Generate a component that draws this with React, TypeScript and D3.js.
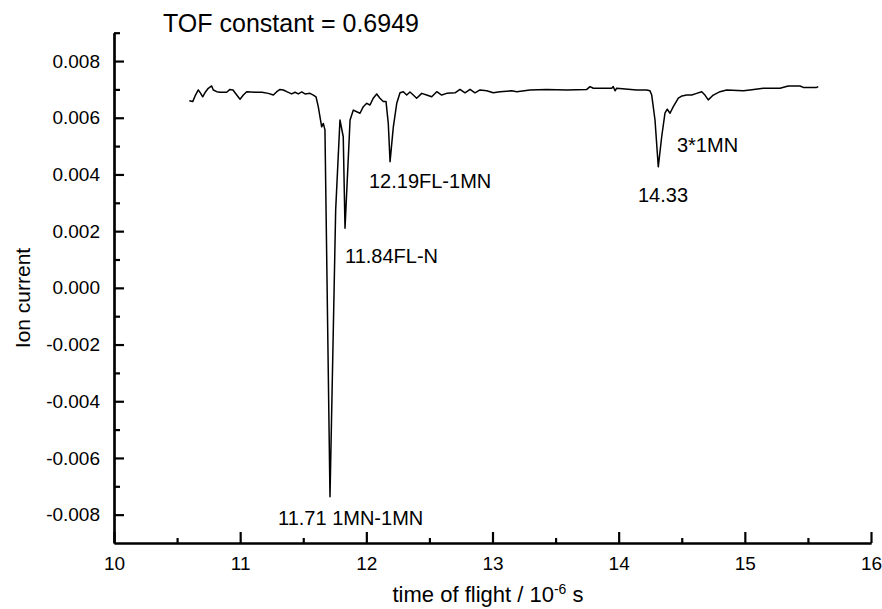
import { useRef, useEffect } from 'react';
import * as d3 from 'd3';

// time of flight (10^-6 s) and ion current
const TIME = [
  10.597, 10.624, 10.646, 10.668, 10.686, 10.703, 10.725, 10.747, 10.774, 10.787,
  10.814, 10.840, 10.893, 10.919, 10.943, 10.973, 10.999, 11.025, 11.052, 11.118,
  11.173, 11.223, 11.263, 11.290, 11.316, 11.342, 11.369, 11.408, 11.435, 11.461,
  11.488, 11.514, 11.553, 11.580, 11.601, 11.619, 11.646, 11.659, 11.672, 11.712,
  11.757, 11.791, 11.817, 11.831, 11.871, 11.897, 11.924, 11.950, 11.976, 12.003,
  12.029, 12.055, 12.082, 12.108, 12.134, 12.156, 12.174, 12.188, 12.214, 12.241,
  12.267, 12.293, 12.320, 12.346, 12.372, 12.399, 12.439, 12.478, 12.518, 12.558,
  12.597, 12.637, 12.703, 12.742, 12.782, 12.822, 12.861, 12.901, 12.954, 13.006,
  13.059, 13.152, 13.192, 13.297, 13.429, 13.588, 13.747, 13.773, 13.799, 13.945,
  13.957, 13.971, 13.984, 14.143, 14.222, 14.248, 14.262, 14.274, 14.288, 14.314,
  14.341, 14.367, 14.385, 14.407, 14.433, 14.473, 14.502, 14.539, 14.579, 14.618,
  14.658, 14.684, 14.710, 14.750, 14.803, 14.856, 14.988, 15.041, 15.146, 15.279,
  15.344, 15.437, 15.463, 15.569, 15.582,
];
const CURRENT = [
  0.00660, 0.00657, 0.00680, 0.00698, 0.00687, 0.00674, 0.00691, 0.00704, 0.00712, 0.00698,
  0.00692, 0.00690, 0.00690, 0.00700, 0.00698, 0.00680, 0.00665, 0.00680, 0.00692, 0.00690,
  0.00690, 0.00686, 0.00680, 0.00692, 0.00700, 0.00698, 0.00692, 0.00684, 0.00690, 0.00684,
  0.00691, 0.00684, 0.00686, 0.00680, 0.00674, 0.00639, 0.00568, 0.00580, 0.00557, -0.00737,
  0.00275, 0.00592, 0.00533, 0.00210, 0.00592, 0.00627, 0.00621, 0.00616, 0.00639, 0.00651,
  0.00645, 0.00669, 0.00684, 0.00669, 0.00657, 0.00657, 0.00580, 0.00445, 0.00568, 0.00651,
  0.00688, 0.00692, 0.00680, 0.00691, 0.00680, 0.00669, 0.00686, 0.00680, 0.00674, 0.00692,
  0.00680, 0.00686, 0.00688, 0.00700, 0.00688, 0.00700, 0.00688, 0.00698, 0.00695, 0.00688,
  0.00692, 0.00695, 0.00692, 0.00698, 0.00700, 0.00698, 0.00700, 0.00710, 0.00704, 0.00704,
  0.00710, 0.00695, 0.00704, 0.00698, 0.00698, 0.00695, 0.00680, 0.00639, 0.00592, 0.00427,
  0.00533, 0.00616, 0.00630, 0.00616, 0.00639, 0.00669, 0.00677, 0.00680, 0.00680, 0.00686,
  0.00692, 0.00680, 0.00663, 0.00680, 0.00692, 0.00698, 0.00695, 0.00698, 0.00704, 0.00704,
  0.00712, 0.00712, 0.00707, 0.00707, 0.00710,
];

const X_MAJOR = [10, 11, 12, 13, 14, 15, 16];
const X_MINOR = [10.5, 11.5, 12.5, 13.5, 14.5, 15.5];
const Y_MAJOR = [-0.008, -0.006, -0.004, -0.002, 0, 0.002, 0.004, 0.006, 0.008];
const Y_MINOR = [-0.007, -0.005, -0.003, -0.001, 0.001, 0.003, 0.005, 0.007, 0.009];

// peak annotations: text, and where the text starts (data coords of baseline start)
const NOTE_TEXT = ['11.71 1MN-1MN', '11.84FL-N', '12.19FL-1MN', '14.33', '3*1MN'];
const NOTE_T = [11.30, 11.831, 12.021, 14.153, 14.462];
const NOTE_V = [-0.00837, 0.000877, 0.003522, 0.003028, 0.004792];

const TITLE = 'TOF constant = 0.6949';
const FONT = "'Liberation Sans', Arial, Helvetica, sans-serif";

export default function App() {
  const svgRef = useRef<SVGSVGElement>(null);

  useEffect(() => {
    const svg = d3.select(svgRef.current);
    svg.selectAll('*').remove();

    const m = { top: 32.7, right: 11, bottom: 66, left: 114 };
    const W = 882, H = 609;
    const x = d3.scaleLinear().domain([10, 16]).range([m.left, W - m.right]);
    const y = d3.scaleLinear().domain([-0.009, 0.009]).range([H - m.bottom, m.top]);
    const fmtY = (d: number) => (Math.abs(d) < 1e-9 ? '0.000' : d.toFixed(3));

    const style = (s: any) => {
      s.selectAll('path,line').attr('stroke', '#000').attr('stroke-width', 2.2);
      s.selectAll('text').attr('fill', '#000').style('font-family', FONT).style('font-size', '19px');
    };

    // minor ticks
    svg.append('g').attr('transform', `translate(0,${y(-0.009)})`)
      .call(d3.axisBottom(x).tickValues(X_MINOR).tickSize(-5).tickSizeOuter(0).tickFormat(() => ''))
      .call(style);
    svg.append('g').attr('transform', `translate(${x(10)},0)`)
      .call(d3.axisLeft(y).tickValues(Y_MINOR).tickSize(-6).tickSizeOuter(0).tickFormat(() => ''))
      .call(style);

    // major ticks
    svg.append('g').attr('transform', `translate(0,${y(-0.009)})`)
      .call(d3.axisBottom(x).tickValues(X_MAJOR).tickSize(-11).tickSizeOuter(0).tickPadding(14).tickFormat(d3.format('d')))
      .call(style);
    svg.append('g').attr('transform', `translate(${x(10)},0)`)
      .call(d3.axisLeft(y).tickValues(Y_MAJOR).tickSize(-10).tickSizeOuter(0).tickPadding(14).tickFormat(fmtY as any))
      .call(style);

    // trace
    const line = d3.line<number>().x((_, i) => x(TIME[i])).y(d => y(d));
    svg.append('path').datum(CURRENT)
      .attr('fill', 'none').attr('stroke', '#000').attr('stroke-width', 1.5)
      .attr('stroke-linejoin', 'round').attr('d', line);

    // annotations
    svg.append('g').selectAll('text').data(NOTE_TEXT).join('text')
      .attr('x', (_, i) => x(NOTE_T[i])).attr('y', (_, i) => y(NOTE_V[i]))
      .style('font-family', FONT).style('font-size', '20px').attr('fill', '#000')
      .text(d => d);

    // title
    svg.append('text').attr('x', 163).attr('y', 32)
      .style('font-family', FONT).style('font-size', '25px').attr('fill', '#000')
      .text(TITLE);

    // axis titles
    const xt = svg.append('text').attr('x', 488).attr('y', 602).attr('text-anchor', 'middle')
      .style('font-family', FONT).style('font-size', '22px').attr('fill', '#000');
    xt.append('tspan').text('time of flight / 10');
    xt.append('tspan').attr('dy', -8).style('font-size', '14px').text('-6');
    xt.append('tspan').attr('dy', 8).text(' s');

    svg.append('text').attr('transform', `translate(30,298) rotate(-90)`).attr('text-anchor', 'middle')
      .style('font-family', FONT).style('font-size', '21px').attr('fill', '#000')
      .text('Ion current');
  }, []);

  return (
    <svg ref={svgRef} width={882} height={609}
      style={{ position: 'absolute', left: 0, top: 0, background: '#fff' }} />
  );
}
